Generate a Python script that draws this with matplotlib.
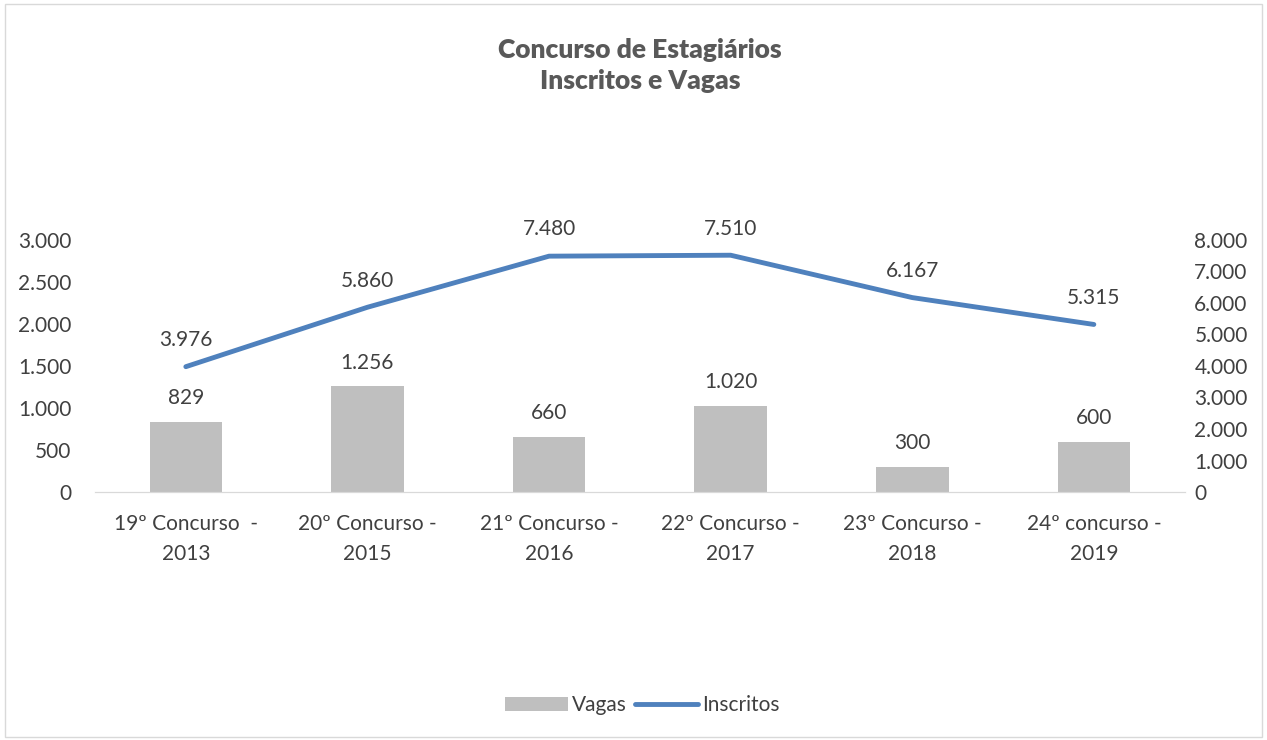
import numpy as np
import matplotlib.pyplot as plt
from matplotlib.patches import Rectangle

plt.rcParams['font.family'] = ['Lato', 'DejaVu Sans']

categorias = ['19º Concurso  -\n2013', '20º Concurso -\n2015', '21º Concurso -\n2016',
              '22º Concurso -\n2017', '23º Concurso -\n2018', '24º concurso -\n2019']
vagas = [829, 1256, 660, 1020, 300, 600]
inscritos = [3976, 5860, 7480, 7510, 6167, 5315]

def fmt(v):
    return f'{v:,.0f}'.replace(',', '.')

cor_texto = '#404040'
fig = plt.figure(figsize=(12.67, 7.4), dpi=100)
fig.patches.append(Rectangle((0.004, 0.004), 0.992, 0.99, transform=fig.transFigure,
                             fill=False, edgecolor='#d9d9d9', lw=1))

ax = fig.add_axes([0.075, 0.335, 0.86, 0.341])
ax2 = ax.twinx()
x = np.arange(len(categorias))

ax.bar(x, vagas, width=0.4, color='#bfbfbf', label='Vagas', zorder=2)
ax2.plot(x, inscritos, color='#4f81bd', lw=3.5, solid_capstyle='round', label='Inscritos')

ax.set_xlim(-0.5, 5.5)
ax.set_ylim(0, 3000)
ax2.set_ylim(0, 8000)
ax.set_yticks(range(0, 3001, 500))
ax2.set_yticks(range(0, 8001, 1000))
ax.set_yticklabels([fmt(v) for v in range(0, 3001, 500)])
ax2.set_yticklabels([fmt(v) for v in range(0, 8001, 1000)])
ax.set_xticks(x)
ax.set_xticklabels(categorias, linespacing=1.6)

for a in (ax, ax2):
    for s in ('top', 'left', 'right'):
        a.spines[s].set_visible(False)
    a.spines['bottom'].set_color('#d9d9d9')
    a.tick_params(length=0, labelsize=15, labelcolor=cor_texto)
ax.tick_params(axis='x', pad=16)
ax.tick_params(axis='y', pad=17)
ax2.tick_params(axis='y', pad=7)

for xi, v in zip(x, vagas):
    ax.annotate(fmt(v), (xi, v), xytext=(0, 10), textcoords='offset points',
                ha='center', va='bottom', fontsize=15, color=cor_texto)
for xi, v in zip(x, inscritos):
    ax2.annotate(fmt(v), (xi, v), xytext=(0, 12), textcoords='offset points',
                 ha='center', va='bottom', fontsize=15, color=cor_texto)

fig.text(0.505, 0.911, 'Concurso de Estagiários\nInscritos e Vagas', ha='center', va='center',
         fontsize=19, fontweight='heavy', color='#595959', linespacing=1.35)

h1, l1 = ax.get_legend_handles_labels()
h2, l2 = ax2.get_legend_handles_labels()
fig.legend(h1 + h2, l1 + l2, loc='center', bbox_to_anchor=(0.507, 0.047), ncol=2,
           frameon=False, fontsize=15, labelcolor=cor_texto, handlelength=3.0,
           handletextpad=0.2, columnspacing=0.4)

fig.savefig('out.png', dpi=100, facecolor='white')
